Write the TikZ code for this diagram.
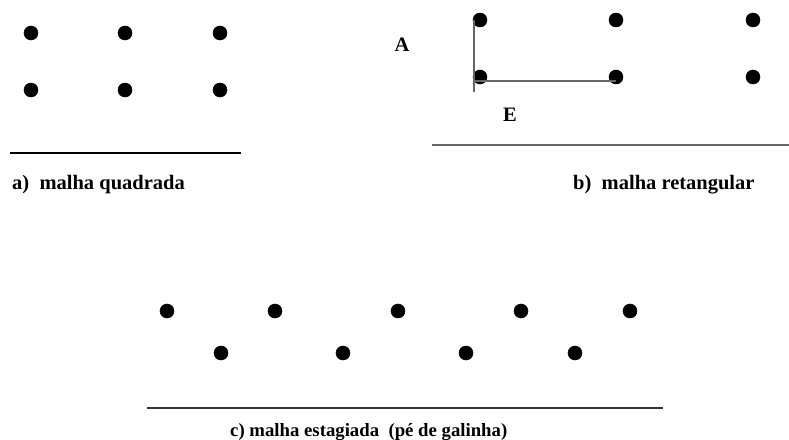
\documentclass[tikz,border=0pt]{standalone}
\usepackage{fontspec}
\setmainfont{Liberation Serif}
\tikzset{
  lbl/.style={font=\bfseries\fontsize{17.5}{20}\selectfont, inner sep=0pt},
  rule/.style={line width=1pt, black!60},
}

\begin{document}
\begin{tikzpicture}[x=0.03cm,y=-0.03cm]
\useasboundingbox (0,0) rectangle (789,439);
% a) square grid
\foreach \x in {31,125,220}
  \foreach \y in {33,90}
    \filldraw (\x,\y) circle (6pt);
\coordinate (aL) at (10,153);
\coordinate (aR) at (241,153);
\draw[line width=1.2pt] (aL) -- (aR);
\node[lbl, anchor=west] (capa) at (12,185) {a)\ \ malha quadrada};

% b) rectangular grid
\foreach \x/\n in {480/1,616/2,753/3}{
  \coordinate (top\n) at (\x,20);
  \coordinate (bot\n) at (\x,77);
  \filldraw (top\n) circle (6pt);
  \filldraw (bot\n) circle (6pt);
}
\coordinate (vT) at (474,20);
\coordinate (vB) at (474,92);
\coordinate (hL) at (474,81);
\coordinate (hR) at (616,81);
\draw[rule] (vT) -- (vB);
\draw[rule] (hL) -- (hR);
\node[lbl] (lA) at (402,45) {A};
\node[lbl] (lE) at (510,115) {E};
\coordinate (bL) at (432,145);
\coordinate (bR) at (789,145);
\draw[rule] (bL) -- (bR);
\node[lbl, anchor=west] (capb) at (573,185) {b)\ \ malha retangular};

% c) staggered grid
\foreach \x in {167,275,398,521,630}
  \filldraw (\x,311) circle (6pt);
\foreach \x in {221,343,466,575}
  \filldraw (\x,353) circle (6pt);
\coordinate (cL) at (147,408);
\coordinate (cR) at (663,408);
\draw[line width=1.2pt, black!80] (cL) -- (cR);
\node[lbl, font=\bfseries\fontsize{16}{18}\selectfont, anchor=west] (capc) at (230,432) {c) malha estagiada\ \ (pé de galinha)};
\end{tikzpicture}
\end{document}
